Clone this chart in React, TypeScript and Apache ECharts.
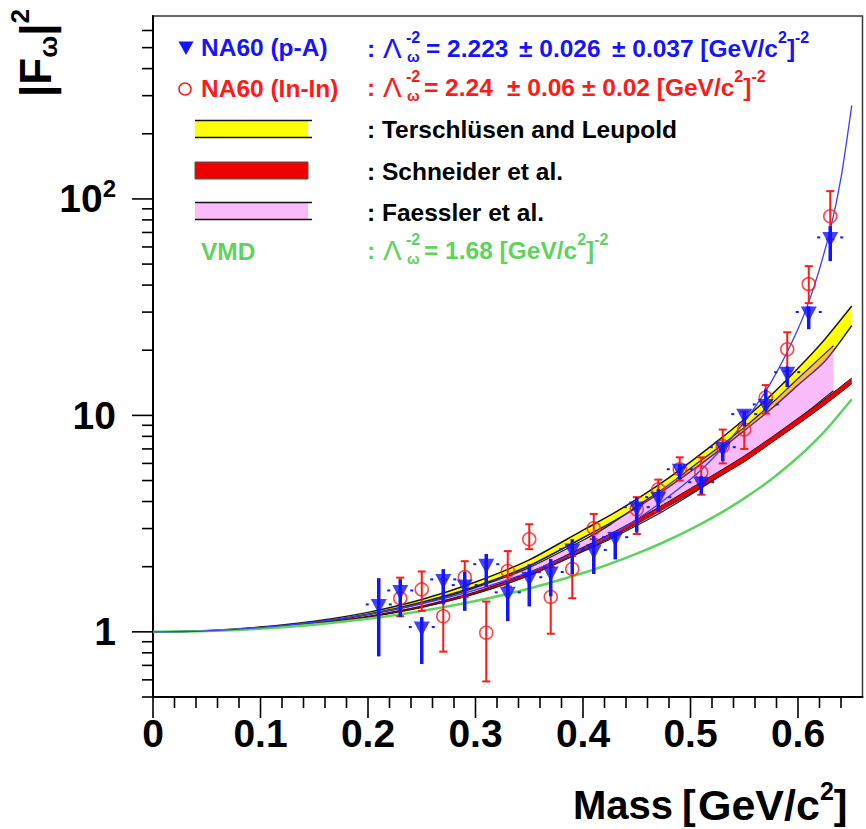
import { useEffect, useRef } from 'react';
import * as echarts from 'echarts';

// ---- theory curves (|F_omega|^2 versus dimuon mass, GeV/c^2) ----
const THEORY_MASS = [0, 0.05, 0.1, 0.15, 0.2, 0.25, 0.3, 0.35, 0.4, 0.425, 0.45, 0.475, 0.5, 0.525, 0.55, 0.575, 0.6, 0.625, 0.65];
const TL_UPPER = [1, 1.013, 1.052, 1.12, 1.23, 1.41, 1.7, 2.15, 2.95, 3.45, 4.1, 4.95, 6.1, 7.6, 9.6, 12.4, 16.5, 22.5, 32];
const TL_LOWER = [1, 1.011, 1.046, 1.105, 1.205, 1.37, 1.62, 2.02, 2.72, 3.17, 3.75, 4.5, 5.5, 6.8, 8.5, 10.7, 13.8, 17.8, 26];
const SCHNEIDER_UPPER = [1, 1.01, 1.04, 1.092, 1.18, 1.315, 1.53, 1.88, 2.46, 2.83, 3.3, 3.88, 4.6, 5.45, 6.5, 7.9, 9.7, 11.9, 14.9];
const SCHNEIDER_LOWER = [1, 1.009, 1.037, 1.086, 1.168, 1.295, 1.5, 1.82, 2.36, 2.71, 3.15, 3.7, 4.35, 5.15, 6.1, 7.45, 9.1, 11.2, 14.0];
const VMD_CURVE = [1, 1.0085, 1.0345, 1.08, 1.149, 1.248, 1.388, 1.585, 1.87, 2.061, 2.297, 2.594, 2.973, 3.468, 4.134, 5.06, 6.403, 8.463, 11.87];

const FAESSLER_MASS = [0, 0.05, 0.1, 0.15, 0.2, 0.25, 0.3, 0.35, 0.4, 0.425, 0.45, 0.475, 0.5, 0.525, 0.55, 0.575, 0.6, 0.633];
const FAESSLER_UPPER = [1, 1.011, 1.045, 1.1, 1.2, 1.35, 1.6, 1.98, 2.65, 3.12, 3.8, 4.6, 5.7, 7.05, 8.8, 11.3, 14.8, 21.0];
const FAESSLER_LOWER = [1, 1.009, 1.038, 1.088, 1.17, 1.3, 1.5, 1.82, 2.35, 2.68, 3.1, 3.62, 4.3, 5.15, 6.2, 7.6, 9.6, 13.0];

// pole fit to the p-A data, Lambda^-2 = 2.223
const FIT_MASS = [0, 0.05, 0.1, 0.15, 0.2, 0.25, 0.3, 0.35, 0.4, 0.45, 0.5, 0.525, 0.55, 0.575, 0.6, 0.615, 0.63, 0.64, 0.65];
const FIT_PA = [1, 1.011, 1.046, 1.108, 1.205, 1.349, 1.563, 1.889, 2.409, 3.308, 5.067, 6.667, 9.321, 14.24, 25.07, 39.45, 72.2, 125.0, 270.7];

// ---- NA60 p-A ----
const PA_MASS = [0.21, 0.23, 0.25, 0.27, 0.29, 0.31, 0.33, 0.35, 0.37, 0.39, 0.41, 0.43, 0.45, 0.47, 0.49, 0.51, 0.53, 0.55, 0.57, 0.59, 0.61, 0.63];
const PA_VALUE = [1.31, 1.52, 1.03, 1.71, 1.61, 2.01, 1.49, 1.75, 1.85, 2.36, 2.34, 2.68, 3.69, 4.1, 5.52, 4.81, 6.98, 9.92, 11.0, 15.5, 29.4, 65.0];
const PA_LOW = [0.77, 1.17, 0.71, 1.34, 1.25, 1.61, 1.12, 1.31, 1.46, 1.85, 1.85, 2.16, 2.88, 3.57, 5.07, 4.32, 6.15, 8.9, 10.6, 13.5, 25.0, 51.6];
const PA_HIGH = [1.77, 1.75, 1.17, 1.95, 1.89, 2.29, 1.71, 2.05, 2.17, 2.68, 2.77, 2.88, 4.18, 4.56, 5.94, 5.25, 7.36, 10.4, 13.2, 16.8, 31.9, 74.8];

// ---- NA60 In-In ----
const ININ_MASS = [0.23, 0.25, 0.27, 0.29, 0.31, 0.33, 0.35, 0.37, 0.39, 0.41, 0.45, 0.47, 0.49, 0.51, 0.53, 0.55, 0.57, 0.59, 0.61, 0.63];
const ININ_VALUE = [1.43, 1.57, 1.18, 1.79, 0.99, 1.91, 2.68, 1.45, 1.95, 3.01, 3.68, 4.55, 5.64, 5.46, 7.2, 8.6, 12.1, 20.2, 40.4, 83.2];
const ININ_LOW = [1.18, 1.25, 0.81, 1.45, 0.59, 1.62, 2.41, 0.98, 1.43, 2.68, 2.83, 3.6, 5.0, 4.3, 6.0, 7.0, 10.2, 16.0, 33.0, 65.0];
const ININ_HIGH = [1.78, 1.9, 1.75, 2.12, 1.38, 2.36, 3.14, 1.99, 2.24, 3.5, 4.19, 5.05, 6.4, 6.4, 8.6, 10.4, 13.8, 24.2, 48.9, 108.6];

// ---- axis ticks ----
const X_MAJOR_TICKS = [0, 0.1, 0.2, 0.3, 0.4, 0.5, 0.6];
const X_MINOR_TICKS = [0.02, 0.04, 0.06, 0.08, 0.12, 0.14, 0.16, 0.18, 0.22, 0.24, 0.26, 0.28, 0.32, 0.34, 0.36, 0.38, 0.42, 0.44, 0.46, 0.48, 0.52, 0.54, 0.56, 0.58, 0.62, 0.64];
const Y_MAJOR_TICKS = [1, 10, 100];
const Y_MINOR_TICKS = [0.5, 0.6, 0.7, 0.8, 0.9, 2, 3, 4, 5, 6, 7, 8, 9, 20, 30, 40, 50, 60, 70, 80, 90, 200, 300, 400, 500, 600];

const X_MIN = 0;
const X_MAX = 0.66;
const Y_MIN = 0.5;
const Y_MAX = 700;

const FONT = '"Liberation Sans", Arial, Helvetica, sans-serif';
const BLUE = '#1414ff';
const RED = '#ff1a1a';
const GREEN = '#5fd35f';
const PINK = 'rgba(240, 70, 240, 0.37)';

let measureCtx: CanvasRenderingContext2D | null = null;
function textWidth(s: string, size: number, weight = 'bold'): number {
  if (!measureCtx) measureCtx = document.createElement('canvas').getContext('2d');
  if (!measureCtx) return s.length * size * 0.55;
  measureCtx.font = `${weight} ${size}px ${FONT}`;
  return measureCtx.measureText(s).width;
}

function textEl(s: string, x: number, y: number, size: number, color: string, weight = 'bold') {
  return {
    type: 'text',
    x,
    y,
    silent: true,
    style: {
      text: s,
      fontSize: size,
      fontWeight: weight,
      fontFamily: FONT,
      fill: color,
      align: 'left',
      verticalAlign: 'middle',
      textAlign: 'left',
      textVerticalAlign: 'middle',
    },
  };
}

type Run = { text: string; role?: 'main' | 'sup' | 'sub'; at?: number; under?: string; size?: number; weight?: string };

// lays out one line of text with super/subscripts, left to right
function scriptLine(runs: Run[], y: number, color: string, size: number, supSize: number, supDy: number, subDy: number) {
  const out: any[] = [];
  let x = 0;
  for (const r of runs) {
    if (r.at !== undefined) x = r.at;
    const role = r.role || 'main';
    const fs = r.size || (role === 'main' ? size : supSize);
    const wt = r.weight || 'bold';
    const dy = role === 'sup' ? supDy : role === 'sub' ? subDy : 0;
    out.push(textEl(r.text, x, y + dy, fs, color, wt));
    let w = textWidth(r.text, fs, wt);
    if (r.under) {
      out.push(textEl(r.under, x + 1, y + subDy, supSize - 1, color));
      w = Math.max(w, textWidth(r.under, supSize - 1) + 1);
    }
    x += w;
  }
  return out;
}

const LEG = 24.5;
const SCRIPT = 16;

function lambdaRuns(): Run[] {
  return [
    { text: ':', at: 367 },
    { text: 'Λ', at: 383, size: 28, weight: 'normal' },
    { text: '-2', role: 'sup', at: 406, under: 'ω' },
  ];
}

function legendGraphics() {
  const g: any[] = [];
  // markers and band swatches
  g.push({
    type: 'polygon',
    silent: true,
    shape: { points: [[178.5, 41.5], [193.5, 41.5], [186, 55]] },
    style: { fill: BLUE },
  });
  g.push({ type: 'circle', silent: true, shape: { cx: 185, cy: 89, r: 6 }, style: { fill: 'none', stroke: RED, lineWidth: 1.5 } });
  g.push({ type: 'rect', silent: true, shape: { x: 195, y: 121, width: 113, height: 16 }, style: { fill: '#ffff00' } });
  g.push({ type: 'line', silent: true, shape: { x1: 195, y1: 120.5, x2: 312, y2: 120.5 }, style: { stroke: '#111', lineWidth: 1.5 } });
  g.push({ type: 'line', silent: true, shape: { x1: 195, y1: 137.5, x2: 312, y2: 137.5 }, style: { stroke: '#111', lineWidth: 1.5 } });
  g.push({ type: 'rect', silent: true, shape: { x: 195, y: 162, width: 113, height: 17 }, style: { fill: '#ee0000', stroke: '#555', lineWidth: 1 } });
  g.push({ type: 'rect', silent: true, shape: { x: 195, y: 203, width: 113, height: 16 }, style: { fill: PINK } });
  g.push({ type: 'line', silent: true, shape: { x1: 195, y1: 202.5, x2: 312, y2: 202.5 }, style: { stroke: '#111', lineWidth: 1.5 } });
  g.push({ type: 'line', silent: true, shape: { x1: 195, y1: 219.5, x2: 312, y2: 219.5 }, style: { stroke: '#111', lineWidth: 1.5 } });

  g.push(textEl('NA60 (p-A)', 201, 47, LEG, BLUE));
  g.push(textEl('NA60 (In-In)', 201, 88, LEG, RED));
  g.push(textEl('VMD', 201, 251, LEG, GREEN));

  g.push(
    ...scriptLine(
      [
        ...lambdaRuns(),
        { text: '= 2.223', at: 426 },
        { text: '± 0.026', at: 519 },
        { text: '± 0.037 [GeV/c', at: 612 },
        { text: '2', role: 'sup' },
        { text: ']' },
        { text: '-2', role: 'sup' },
      ],
      48, BLUE, LEG, SCRIPT, -11, 8,
    ),
  );
  g.push(
    ...scriptLine(
      [
        ...lambdaRuns(),
        { text: '= 2.24', at: 424 },
        { text: '± 0.06', at: 507 },
        { text: '± 0.02 [GeV/c', at: 582 },
        { text: '2', role: 'sup' },
        { text: ']' },
        { text: '-2', role: 'sup' },
      ],
      87, RED, LEG, SCRIPT, -11, 8,
    ),
  );
  g.push(textEl(': Terschlüsen and Leupold', 367, 129, LEG, '#000'));
  g.push(textEl(': Schneider et al.', 367, 171, LEG, '#000'));
  g.push(textEl(': Faessler et al.', 367, 212, LEG, '#000'));
  g.push(
    ...scriptLine(
      [
        ...lambdaRuns(),
        { text: '= 1.68 [GeV/c', at: 424 },
        { text: '2', role: 'sup' },
        { text: ']' },
        { text: '-2', role: 'sup' },
      ],
      250, GREEN, LEG, SCRIPT, -11, 8,
    ),
  );

  // x-axis title
  g.push(textEl('Mass', 573, 805, 40, '#000'));
  g.push(
    ...scriptLine(
      [
        { text: '[', at: 682, size: 41 },
        { text: 'GeV/c', at: 698 },
        { text: '2', role: 'sup' },
        { text: ']', size: 41 },
      ],
      805, '#000', 43, 25, -14, 0,
    ),
  );

  // y-axis title, rotated to read bottom-to-top
  const title = scriptLine(
    [
      { text: '|F', at: 0 },
      { text: 'ω', role: 'sub' },
      { text: '|' },
      { text: '2', role: 'sup' },
    ],
    0, '#000', 44, 26, -15, 13,
  );
  g.push({ type: 'group', x: 35, y: 97, rotation: Math.PI / 2, silent: true, children: title });
  return g;
}

// filled band between two curves, with thin outlines on both edges
function bandSeries(name: string, mass: number[], lower: number[], upper: number[], fill: string, edge: string, edgeWidth: number, z: number) {
  return {
    type: 'custom',
    name,
    z,
    silent: true,
    clip: true,
    data: mass.map((m, i) => [m, lower[i], upper[i]]),
    encode: { x: 0, y: [1, 2] },
    renderItem: (params: any, api: any) => {
      if (params.dataIndex !== 0) return null;
      const top = mass.map((m, i) => api.coord([m, upper[i]]));
      const bot = mass.map((m, i) => api.coord([m, lower[i]]));
      return {
        type: 'group',
        children: [
          { type: 'polygon', shape: { points: [...top, ...bot.slice().reverse()] }, style: { fill, stroke: 'none' } },
          { type: 'polyline', shape: { points: top, smooth: 0.25 }, style: { fill: 'none', stroke: edge, lineWidth: edgeWidth } },
          { type: 'polyline', shape: { points: bot, smooth: 0.25 }, style: { fill: 'none', stroke: edge, lineWidth: edgeWidth } },
        ],
      };
    },
  };
}

function tickSeries(name: string, values: number[], horizontal: boolean, len: number) {
  return {
    type: 'custom',
    name,
    clip: false,
    silent: true,
    z: 10,
    data: values.map((v) => (horizontal ? [v, Y_MIN] : [X_MIN, v])),
    renderItem: (_p: any, api: any) => {
      const pt = api.coord([api.value(0), api.value(1)]);
      const shape = horizontal
        ? { x1: pt[0], y1: pt[1], x2: pt[0], y2: pt[1] + len }
        : { x1: pt[0] - len, y1: pt[1], x2: pt[0], y2: pt[1] };
      return { type: 'line', shape, style: { stroke: '#000', lineWidth: 1.6 } };
    },
  };
}

function isPow10(v: number) {
  const l = Math.log10(v);
  return Math.abs(l - Math.round(l)) < 1e-6;
}

function buildOption(): any {
  const series: any[] = [
    bandSeries('Terschlüsen and Leupold', THEORY_MASS, TL_LOWER, TL_UPPER, '#ffff00', '#1a1a1a', 1.5, 2),
    bandSeries('Faessler et al.', FAESSLER_MASS, FAESSLER_LOWER, FAESSLER_UPPER, PINK, '#222', 1.2, 3),
    bandSeries('Schneider et al.', THEORY_MASS, SCHNEIDER_LOWER, SCHNEIDER_UPPER, '#ee0000', '#3a1010', 1, 4),
    {
      type: 'line',
      name: 'VMD',
      data: THEORY_MASS.map((m, i) => [m, VMD_CURVE[i]]),
      smooth: 0.25,
      symbol: 'none',
      silent: true,
      z: 5,
      lineStyle: { color: GREEN, width: 2.6 },
    },
    {
      type: 'line',
      name: 'p-A fit',
      data: FIT_MASS.map((m, i) => [m, FIT_PA[i]]),
      smooth: 0.25,
      symbol: 'none',
      silent: true,
      z: 6,
      lineStyle: { color: '#3c3cff', width: 1.3 },
    },
    {
      type: 'custom',
      name: 'In-In errors',
      z: 7,
      silent: true,
      data: ININ_MASS.map((m, i) => [m, ININ_LOW[i], ININ_HIGH[i]]),
      encode: { x: 0, y: [1, 2] },
      renderItem: (_p: any, api: any) => {
        const m = api.value(0);
        const a = api.coord([m, api.value(1)]);
        const b = api.coord([m, api.value(2)]);
        const st = { stroke: RED, lineWidth: 2 };
        return {
          type: 'group',
          children: [
            { type: 'line', shape: { x1: a[0], y1: a[1], x2: b[0], y2: b[1] }, style: st },
            { type: 'line', shape: { x1: a[0] - 4, y1: a[1], x2: a[0] + 4, y2: a[1] }, style: st },
            { type: 'line', shape: { x1: b[0] - 4, y1: b[1], x2: b[0] + 4, y2: b[1] }, style: st },
          ],
        };
      },
    },
    {
      type: 'scatter',
      name: 'NA60 (In-In)',
      z: 8,
      silent: true,
      data: ININ_MASS.map((m, i) => [m, ININ_VALUE[i]]),
      symbol: 'circle',
      symbolSize: 13,
      itemStyle: { color: 'transparent', borderColor: RED, borderWidth: 1.5 },
    },
    {
      type: 'custom',
      name: 'p-A errors',
      z: 9,
      silent: true,
      data: PA_MASS.map((m, i) => [m, PA_LOW[i], PA_HIGH[i], PA_VALUE[i]]),
      encode: { x: 0, y: [1, 2] },
      renderItem: (_p: any, api: any) => {
        const m = api.value(0);
        const a = api.coord([m, api.value(1)]);
        const b = api.coord([m, api.value(2)]);
        const c = api.coord([m, api.value(3)]);
        const dash = { stroke: BLUE, lineWidth: 2 };
        return {
          type: 'group',
          children: [
            { type: 'line', shape: { x1: a[0], y1: a[1], x2: b[0], y2: b[1] }, style: { stroke: BLUE, lineWidth: 3.5 } },
            { type: 'line', shape: { x1: c[0] - 13, y1: c[1] - 2, x2: c[0] - 10, y2: c[1] - 2 }, style: dash },
            { type: 'line', shape: { x1: c[0] + 10, y1: c[1] - 2, x2: c[0] + 13, y2: c[1] - 2 }, style: dash },
          ],
        };
      },
    },
    {
      type: 'scatter',
      name: 'NA60 (p-A)',
      z: 9,
      silent: true,
      data: PA_MASS.map((m, i) => [m, PA_VALUE[i]]),
      symbol: 'triangle',
      symbolRotate: 180,
      symbolSize: [16, 15],
      itemStyle: { color: BLUE },
    },
    tickSeries('x-major', X_MAJOR_TICKS, true, 21),
    tickSeries('x-minor', X_MINOR_TICKS, true, 11),
    tickSeries('y-major', Y_MAJOR_TICKS, false, 21),
    tickSeries('y-minor', Y_MINOR_TICKS, false, 11),
  ];

  return {
    animation: false,
    backgroundColor: '#ffffff',
    grid: {
      left: 153,
      top: 16,
      right: 3.5,
      bottom: 132,
      show: true,
      borderColor: '#3a3a3a',
      borderWidth: 1.5,
      backgroundColor: 'transparent',
    },
    xAxis: {
      type: 'value',
      min: X_MIN,
      max: X_MAX,
      interval: 0.1,
      axisLine: { show: true, onZero: false, lineStyle: { color: '#000', width: 2 } },
      axisTick: { show: false },
      splitLine: { show: false },
      axisLabel: {
        margin: 17,
        fontSize: 39,
        fontWeight: 'bold',
        fontFamily: FONT,
        color: '#000',
        showMaxLabel: false,
        formatter: (v: number) => (Math.abs(v * 10 - Math.round(v * 10)) < 1e-6 ? String(Math.round(v * 10) / 10) : ''),
      },
    },
    yAxis: {
      type: 'log',
      logBase: 10,
      min: Y_MIN,
      max: Y_MAX,
      axisLine: { show: true, onZero: false, lineStyle: { color: '#000', width: 2 } },
      axisTick: { show: false },
      splitLine: { show: false },
      minorTick: { show: false },
      axisLabel: {
        margin: 37,
        fontSize: 39,
        fontWeight: 'bold',
        fontFamily: FONT,
        color: '#000',
        formatter: (v: number) => {
          if (!isPow10(v)) return '';
          const e = Math.round(Math.log10(v));
          if (e === 2) return '{b|10}{s|2}';
          return String(Math.round(v));
        },
        rich: {
          b: { fontSize: 39, fontWeight: 'bold', fontFamily: FONT, color: '#000', lineHeight: 44 },
          s: { fontSize: 24, fontWeight: 'bold', fontFamily: FONT, color: '#000', verticalAlign: 'top', lineHeight: 24 },
        },
      },
    },
    graphic: { elements: legendGraphics() },
    series,
  };
}

export default function App() {
  const ref = useRef<HTMLDivElement>(null);
  useEffect(() => {
    if (!ref.current) return;
    const chart = echarts.init(ref.current, undefined, { renderer: 'svg' });
    chart.setOption(buildOption());
    return () => chart.dispose();
  }, []);
  return (
    <div
      ref={ref}
      style={{ position: 'fixed', left: 0, top: 0, width: 866, height: 829, background: '#ffffff' }}
    />
  );
}
